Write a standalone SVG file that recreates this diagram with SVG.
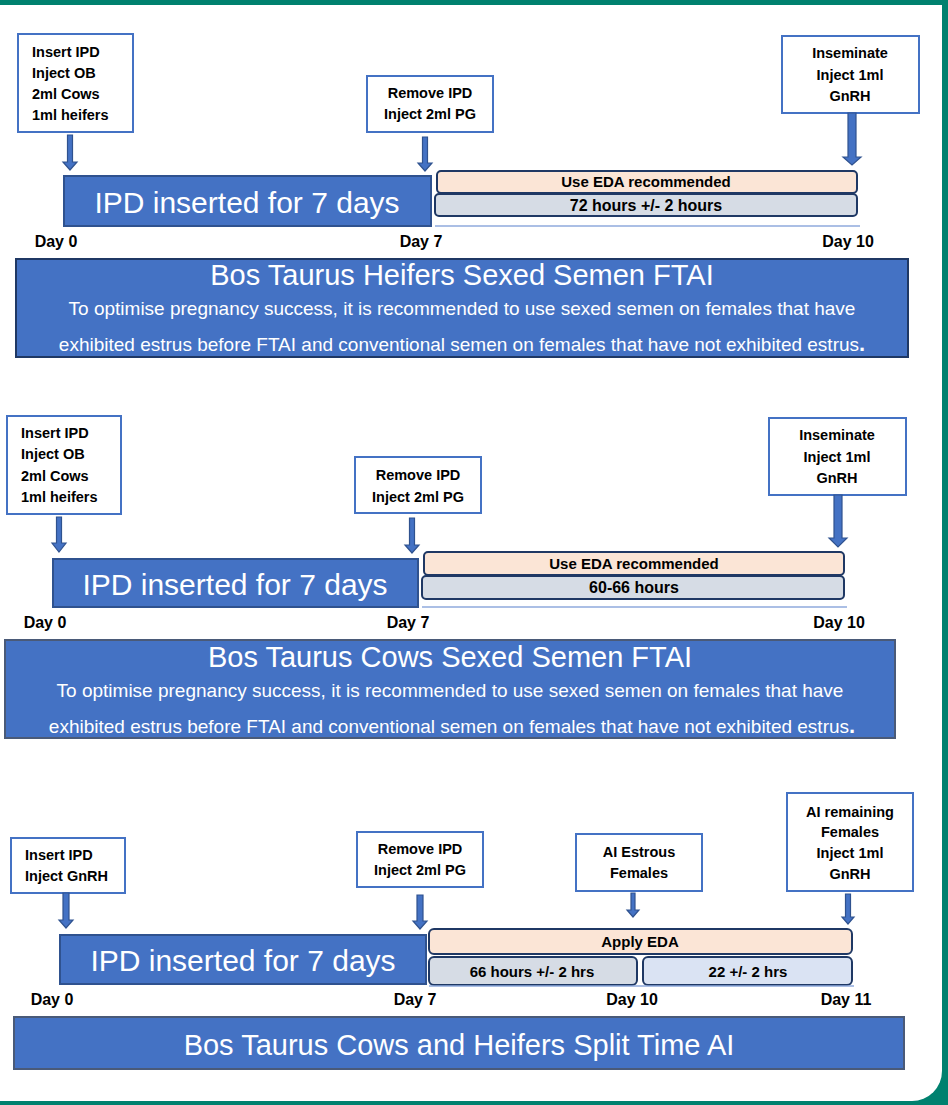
<svg xmlns="http://www.w3.org/2000/svg" width="948" height="1105" viewBox="0 0 948 1105">
<style>
.lbl{font-family:"Liberation Sans",Arial,sans-serif;font-weight:bold;font-size:14.5px;fill:#000}
.mid{text-anchor:middle}
.day{font-family:"Liberation Sans",Arial,sans-serif;font-weight:bold;font-size:16px;fill:#000;text-anchor:middle}
.box{fill:#fff;stroke:#4472C4;stroke-width:2}
.bar{fill:#4472C4;stroke:#2F528F;stroke-width:2}
.bartxt{font-family:"Liberation Sans",Arial,sans-serif;font-size:30px;fill:#fff;text-anchor:middle}
.eda{fill:#FBE5D6;stroke:#1F3864;stroke-width:2}
.hrs{fill:#D6DCE5;stroke:#1F3864;stroke-width:2}
.hrs2{fill:#DAE3F3;stroke:#1F3864;stroke-width:2}
.edatxt{font-family:"Liberation Sans",Arial,sans-serif;font-weight:bold;font-size:15px;fill:#000;text-anchor:middle}
.hrstxt{font-family:"Liberation Sans",Arial,sans-serif;font-weight:bold;font-size:16px;fill:#000;text-anchor:middle}
.base{stroke:#8FAADC;stroke-width:1.5}
.title{fill:#4472C4;stroke-width:2}
.ttl{font-family:"Liberation Sans",Arial,sans-serif;font-size:29px;fill:#fff;text-anchor:middle}
.body{font-family:"Liberation Sans",Arial,sans-serif;font-size:19px;fill:#fff;text-anchor:middle}
.arr{fill:#4472C4;stroke:#2F528F;stroke-width:1.2}
</style>
<rect x="0" y="0" width="948" height="1105" fill="#00816F"/>
<path d="M0,5 H942 V1071 A30,30 0 0 1 912,1101 H0 Z" fill="#fff"/>

<!-- Section 1 -->
<g id="s1-insert">
<rect class="box" x="18" y="34" width="115" height="98"/>
<text class="lbl" x="32" y="57">Insert IPD</text>
<text class="lbl" x="32" y="78">Inject OB</text>
<text class="lbl" x="32" y="99">2ml Cows</text>
<text class="lbl" x="32" y="120">1ml heifers</text>
</g>
<g id="s1-remove">
<rect class="box" x="367" y="76" width="126" height="56"/>
<text class="lbl mid" x="430" y="98">Remove IPD</text>
<text class="lbl mid" x="430" y="119">Inject 2ml PG</text>
</g>
<g id="s1-inseminate">
<rect class="box" x="782" y="36" width="137" height="77"/>
<text class="lbl mid" x="850" y="58">Inseminate</text>
<text class="lbl mid" x="850" y="80">Inject 1ml</text>
<text class="lbl mid" x="850" y="101">GnRH</text>
</g>
<g id="s1-ipd">
<rect class="bar" x="64" y="176" width="367" height="50"/>
<text class="bartxt" x="247" y="213">IPD inserted for 7 days</text>
</g>
<g id="s1-eda">
<rect class="eda" x="437" y="171" width="420" height="22" rx="4"/>
<text class="edatxt" x="646" y="187">Use EDA recommended</text>
</g>
<g id="s1-hours">
<rect class="hrs" x="435" y="194" width="422" height="22" rx="4"/>
<text class="hrstxt" x="646" y="211">72 hours +/- 2 hours</text>
</g>
<line class="base" x1="435" y1="226" x2="860" y2="226"/>
<g id="s1-days">
<text class="day" x="56" y="247">Day 0</text>
<text class="day" x="421" y="247">Day 7</text>
<text class="day" x="848" y="247">Day 10</text>
</g>
<g id="s1-title">
<rect class="title" x="16" y="259" width="892" height="98" stroke="#1F3864"/>
<text class="ttl" x="462" y="285">Bos Taurus Heifers Sexed Semen FTAI</text>
<text class="body" x="462" y="315">To optimise pregnancy success, it is recommended to use sexed semen on females that have</text>
<text class="body" x="462" y="351">exhibited estrus before FTAI and conventional semen on females that have not exhibited estrus<tspan font-weight="bold" font-size="22">.</tspan></text>
</g>

<!-- Section 2 -->
<g id="s2-insert">
<rect class="box" x="7" y="416" width="114" height="98"/>
<text class="lbl" x="21" y="438">Insert IPD</text>
<text class="lbl" x="21" y="459">Inject OB</text>
<text class="lbl" x="21" y="481">2ml Cows</text>
<text class="lbl" x="21" y="502">1ml heifers</text>
</g>
<g id="s2-remove">
<rect class="box" x="355" y="457" width="126" height="56"/>
<text class="lbl mid" x="418" y="480">Remove IPD</text>
<text class="lbl mid" x="418" y="502">Inject 2ml PG</text>
</g>
<g id="s2-inseminate">
<rect class="box" x="769" y="418" width="137" height="77"/>
<text class="lbl mid" x="837" y="440">Inseminate</text>
<text class="lbl mid" x="837" y="462">Inject 1ml</text>
<text class="lbl mid" x="837" y="483">GnRH</text>
</g>
<g id="s2-ipd">
<rect class="bar" x="53" y="559" width="365" height="48"/>
<text class="bartxt" x="235" y="595">IPD inserted for 7 days</text>
</g>
<g id="s2-eda">
<rect class="eda" x="424" y="552" width="420" height="23" rx="4"/>
<text class="edatxt" x="634" y="569">Use EDA recommended</text>
</g>
<g id="s2-hours">
<rect class="hrs" x="422" y="576" width="422" height="23" rx="4"/>
<text class="hrstxt" x="634" y="593">60-66 hours</text>
</g>
<line class="base" x1="422" y1="607" x2="847" y2="607"/>
<g id="s2-days">
<text class="day" x="45" y="628">Day 0</text>
<text class="day" x="408" y="628">Day 7</text>
<text class="day" x="839" y="628">Day 10</text>
</g>
<g id="s2-title">
<rect class="title" x="5" y="640" width="890" height="98" stroke="#4A5A78"/>
<text class="ttl" x="450" y="667">Bos Taurus Cows Sexed Semen FTAI</text>
<text class="body" x="450" y="697">To optimise pregnancy success, it is recommended to use sexed semen on females that have</text>
<text class="body" x="452" y="733">exhibited estrus before FTAI and conventional semen on females that have not exhibited estrus<tspan font-weight="bold" font-size="22">.</tspan></text>
</g>

<!-- Section 3 -->
<g id="s3-insert">
<rect class="box" x="11" y="838" width="114" height="55"/>
<text class="lbl" x="25" y="860">Insert IPD</text>
<text class="lbl" x="25" y="881">Inject GnRH</text>
</g>
<g id="s3-remove">
<rect class="box" x="357" y="832" width="126" height="55"/>
<text class="lbl mid" x="420" y="854">Remove IPD</text>
<text class="lbl mid" x="420" y="875">Inject 2ml PG</text>
</g>
<g id="s3-estrous">
<rect class="box" x="576" y="834" width="126" height="57"/>
<text class="lbl mid" x="639" y="857">AI Estrous</text>
<text class="lbl mid" x="639" y="878">Females</text>
</g>
<g id="s3-remaining">
<rect class="box" x="787" y="793" width="126" height="98"/>
<text class="lbl mid" x="850" y="817">AI remaining</text>
<text class="lbl mid" x="850" y="837">Females</text>
<text class="lbl mid" x="850" y="858">Inject 1ml</text>
<text class="lbl mid" x="850" y="879">GnRH</text>
</g>
<g id="s3-ipd">
<rect class="bar" x="60" y="935" width="366" height="49"/>
<text class="bartxt" x="243" y="971">IPD inserted for 7 days</text>
</g>
<g id="s3-eda">
<rect class="eda" x="429" y="929" width="423" height="25" rx="5"/>
<text class="edatxt" x="640" y="947">Apply EDA</text>
</g>
<g id="s3-66">
<rect class="hrs" x="429" y="957" width="208" height="28" rx="5"/>
<text class="edatxt" x="532" y="977">66 hours +/- 2 hrs</text>
</g>
<g id="s3-22">
<rect class="hrs2" x="643" y="957" width="209" height="28" rx="5"/>
<text class="edatxt" x="748" y="977">22 +/- 2 hrs</text>
</g>
<line class="base" x1="429" y1="986" x2="854" y2="986"/>
<g id="s3-days">
<text class="day" x="52" y="1005">Day 0</text>
<text class="day" x="415" y="1005">Day 7</text>
<text class="day" x="632" y="1005">Day 10</text>
<text class="day" x="846" y="1005">Day 11</text>
</g>
<g id="s3-title">
<rect class="title" x="14" y="1017" width="890" height="52" stroke="#4A5A78"/>
<text class="ttl" x="459" y="1055" font-size="30">Bos Taurus Cows and Heifers Split Time AI</text>
</g>

<!-- Connectors -->
<g id="connectors">
<polygon class="arr" points="67.5,135 72.5,135 72.5,162 77,162 70,170 63,162 67.5,162"/>
<polygon class="arr" points="422.5,137 427.5,137 427.5,163 432,163 425,171 418,163 422.5,163"/>
<polygon class="arr" points="848,113 856,113 856,157 861,157 852,165 843,157 848,157"/>
<polygon class="arr" points="56.5,517 61.5,517 61.5,543 66,543 59,552 52,543 56.5,543"/>
<polygon class="arr" points="409.5,518 414.5,518 414.5,545 419,545 412,553 405,545 409.5,545"/>
<polygon class="arr" points="834,495 842,495 842,538 847,538 838,547 829,538 834,538"/>
<polygon class="arr" points="63,893 69,893 69,920 73,920 66,928 59,920 63,920"/>
<polygon class="arr" points="417,895 423,895 423,921 427,921 420,929 413,921 417,921"/>
<polygon class="arr" points="631,893 635,893 635,910 639,910 633,917 627,910 631,910"/>
<polygon class="arr" points="845.5,894 850.5,894 850.5,917 854,917 848,924 842,917 845.5,917"/>
</g>
</svg>
